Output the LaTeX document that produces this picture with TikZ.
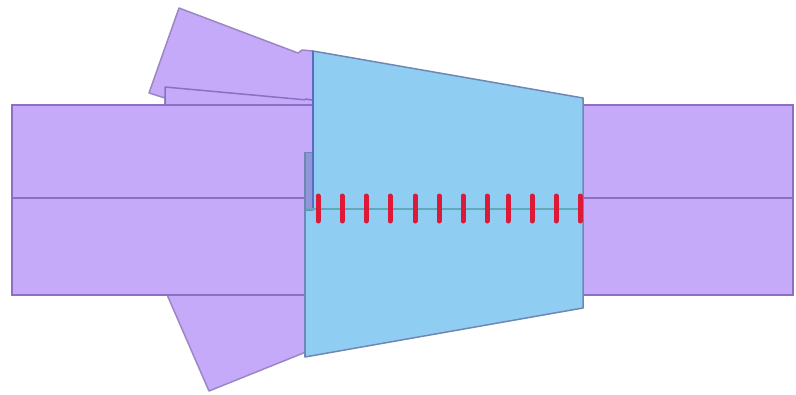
\documentclass[tikz,border=0pt]{standalone}
\definecolor{lil}{RGB}{198,170,250}
\definecolor{lilline}{RGB}{140,110,195}
\definecolor{flapline}{RGB}{155,135,195}
\definecolor{sky}{RGB}{143,205,243}
\definecolor{skyline}{RGB}{110,135,180}
\definecolor{stripc}{RGB}{145,150,215}
\definecolor{tealc}{RGB}{95,170,185}
\definecolor{redc}{RGB}{222,25,55}
\tikzset{
  flap/.style={fill=lil,draw=flapline,line width=1.5pt,line join=round},
  band/.style={draw=lilline,line width=1.6pt},
  blue panel/.style={fill=sky,draw=skyline,line width=1.5pt,line join=round},
  stitch/.style={draw=redc,line width=5pt,line cap=round}
}
\begin{document}
\begin{tikzpicture}[x=1pt,y=-1pt]
\useasboundingbox (0,0) rectangle (796,394);
% flaps
\draw[flap] (179,8) -- (298,53) -- (302,50) -- (313,51) -- (313,110) -- (165,110) -- (165,98) -- (149,93) -- cycle;
\draw[flap,draw=lilline] (165,110) -- (165,87) -- (307,100) -- (307,110);
\draw[flap] (165,290) -- (209,391) -- (306,352) -- (306,290) -- cycle;
% main band
\fill[lil] (12,105) rectangle (793,295);
\draw[band,line width=1.3pt] (165,105) -- (12,105) -- (12,295) -- (793,295) -- (793,105) -- (313,105) -- (165,105);
\draw[band,line width=1.8pt] (12,198) -- (793,198);
% blue panel
\draw[blue panel] (313,51) -- (583,98) -- (583,308) -- (305,357) -- (305,210) -- (313,210) -- cycle;
\fill[lil] (305,53) rectangle (312.5,152);
\draw[band] (305,105) -- (312.5,105);
\draw[band] (305,99) -- (312.5,100);
\fill[stripc] (305,152) rectangle (312.5,210);
\draw[skyline,line width=1.5pt] (305,152) -- (305,357);
\draw[skyline,line width=1pt] (305,152) -- (312.5,152);
\draw[skyline!80!blue,line width=1.8pt] (313,51) -- (313,210);
% seam
\draw[tealc,line width=1.6pt] (306,209) -- (583,209);
% stitches
\foreach \x in {318,342,366,390,415,439,463,487,508,532,556,580}
  \draw[stitch] (\x,196) -- (\x,221);
\end{tikzpicture}
\end{document}
